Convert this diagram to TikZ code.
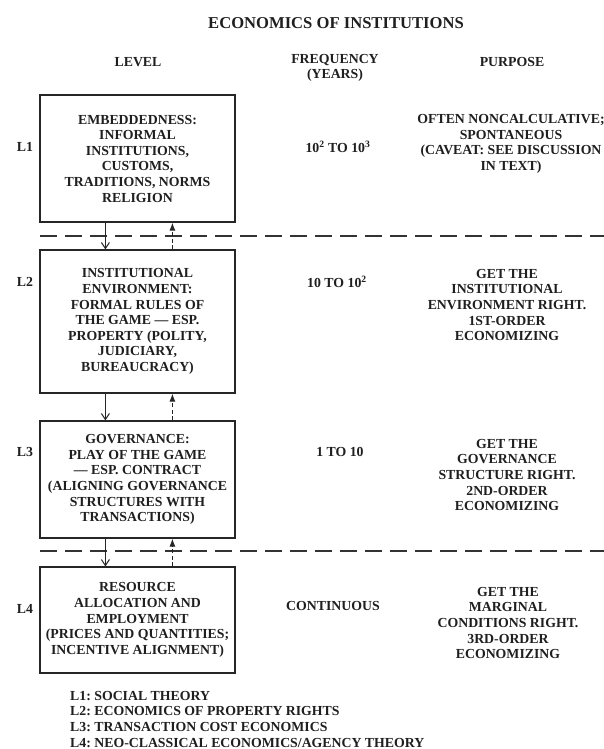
\documentclass[tikz,border=0pt]{standalone}
\usepackage{fontspec}
\setmainfont{Liberation Serif}
\usetikzlibrary{arrows.meta}
\frenchspacing
\begin{document}
\begin{tikzpicture}[x=1pt,y=-1pt,
  ink/.style={black!88},
  txt/.style={ink, font=\fontsize{13.8}{15.6}\selectfont\bfseries, align=center, inner sep=0pt},
  ttl/.style={ink, font=\fontsize{16.6}{19}\selectfont\bfseries, inner sep=0pt},
  levelbox/.style={txt, draw=black!85, line width=1.2pt, minimum width=195pt},
  divider/.style={draw=black!80, line width=1.3pt, dash pattern=on 17pt off 8pt},
  downarr/.style={draw=black!85, line width=1pt, -{Straight Barb[length=6pt,width=8pt]}},
  uparr/.style={draw=black!85, line width=1pt, dash pattern=on 4pt off 2.5pt, -{Latex[length=8pt,width=6pt]}}
]
\useasboundingbox (0,0) rectangle (604,749);
\fill[white] (0,0) rectangle (604,749);

\node[ttl] (title) at (336,23) {ECONOMICS OF INSTITUTIONS};
\node[txt] (hlevel) at (138,62) {LEVEL};
\node[txt] (hfreq) at (335,68) {FREQUENCY\\(YEARS)};
\node[txt] (hpurp) at (512,62) {PURPOSE};

% boxes
\node[levelbox, minimum height=127pt] (b1) at (137.5,158.5)
  {EMBEDDEDNESS:\\INFORMAL\\INSTITUTIONS,\\CUSTOMS,\\TRADITIONS, NORMS\\RELIGION};
\node[levelbox, minimum height=143pt] (b2) at (137.5,321.5)
  {INSTITUTIONAL\\ENVIRONMENT:\\FORMAL RULES OF\\THE GAME --- ESP.\\PROPERTY (POLITY,\\JUDICIARY,\\BUREAUCRACY)};
\node[levelbox, minimum height=117pt] (b3) at (137.5,479.5)
  {GOVERNANCE:\\PLAY OF THE GAME\\--- ESP. CONTRACT\\(ALIGNING GOVERNANCE\\STRUCTURES WITH\\TRANSACTIONS)};
\node[levelbox, minimum height=106pt] (b4) at (137.5,620)
  {RESOURCE\\ALLOCATION AND\\EMPLOYMENT\\(PRICES AND QUANTITIES;\\INCENTIVE ALIGNMENT)};

% level labels
\node[txt] (l1) at (25,147) {L1};
\node[txt] (l2) at (25,282) {L2};
\node[txt] (l3) at (25,452) {L3};
\node[txt] (l4) at (25,609) {L4};

% frequency
\node[txt] (f1) at (338,147) {10\textsuperscript{2} TO 10\textsuperscript{3}};
\node[txt] (f2) at (337,282) {10 TO 10\textsuperscript{2}};
\node[txt] (f3) at (340,452) {1 TO 10};
\node[txt] (f4) at (333,606) {CONTINUOUS};

% purpose
\node[txt] (p1) at (511,144) {OFTEN NONCALCULATIVE;\\SPONTANEOUS\\(CAVEAT: SEE DISCUSSION\\IN TEXT)};
\node[txt] (p2) at (507,305) {GET THE\\INSTITUTIONAL\\ENVIRONMENT RIGHT.\\1ST-ORDER\\ECONOMIZING};
\node[txt] (p3) at (507,475) {GET THE\\GOVERNANCE\\STRUCTURE RIGHT.\\2ND-ORDER\\ECONOMIZING};
\node[txt] (p4) at (508,623) {GET THE\\MARGINAL\\CONDITIONS RIGHT.\\3RD-ORDER\\ECONOMIZING};

% dividers
\coordinate (d1l) at (40,236);
\coordinate (d1r) at (604,236);
\coordinate (d2l) at (40,551);
\coordinate (d2r) at (604,551);
\draw[divider] (d1l) -- (d1r);
\draw[divider] (d2l) -- (d2r);

% arrows
\draw[downarr] ([xshift=66pt]b1.south west) -- ([xshift=66pt]b2.north west);
\draw[uparr] ([xshift=133pt]b2.north west) -- ([xshift=133pt]b1.south west);
\draw[downarr] ([xshift=66pt]b2.south west) -- ([xshift=66pt]b3.north west);
\draw[uparr] ([xshift=133pt]b3.north west) -- ([xshift=133pt]b2.south west);
\draw[downarr] ([xshift=66pt]b3.south west) -- ([xshift=66pt]b4.north west);
\draw[uparr] ([xshift=133pt]b4.north west) -- ([xshift=133pt]b3.south west);

% legend
\node[txt, align=left, anchor=north west] (legend) at (70,691)
  {L1: SOCIAL THEORY\\L2: ECONOMICS OF PROPERTY RIGHTS\\L3: TRANSACTION COST ECONOMICS\\L4: NEO-CLASSICAL ECONOMICS/AGENCY THEORY};
\end{tikzpicture}
\end{document}
